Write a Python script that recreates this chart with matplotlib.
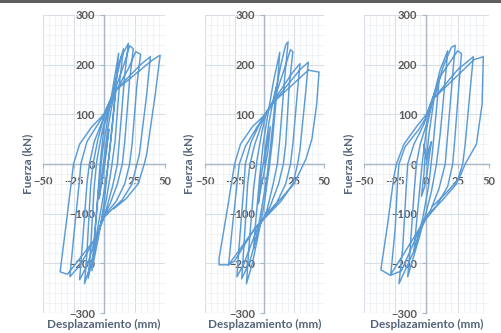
import numpy as np
import matplotlib
matplotlib.use('Agg')
import matplotlib.pyplot as plt
from matplotlib.ticker import MultipleLocator
from matplotlib.patches import Rectangle

plt.rcParams['font.family'] = ['Lato', 'DejaVu Sans']

# Ciclos histeréticos (desplazamiento mm, fuerza kN)
ciclo_a = [
    (0, 0), (2, 35), (4, 70), (2, 25), (0, -10), (-2, -40), (-4, -70), (-2, -25), (0, 10),
    (3, 70), (7, 125), (10, 155), (8, 105), (5, 35), (2, -25), (-2, -85), (-6, -140), (-9, -175),
    (-7, -120), (-4, -40), (-1, 30), (3, 90), (8, 165), (12, 223),
    (10, 165), (6, 60), (3, -10), (0, -80), (-4, -140), (-10, -215),
    (-8, -160), (-5, -60), (-3, 5), (0, 75), (7, 135), (12, 200), (16, 232),
    (13, 170), (9, 45), (6, -10), (2, -70), (-3, -125), (-8, -175), (-13, -230),
    (-11, -170), (-8, -45), (-6, 5), (-2, 60), (2, 100), (7, 135), (14, 215), (20, 243),
    (17, 180), (13, 60), (11, 0), (7, -45), (2, -90), (-4, -130), (-10, -195), (-16, -241),
    (-14, -180), (-11, -45), (-9, 0), (-5, 50), (0, 95), (7, 135), (17, 205), (21, 238), (24, 232),
    (21, 170), (17, 45), (15, 0), (11, -40), (5, -80), (0, -105), (-6, -145), (-14, -205), (-20, -233),
    (-18, -170), (-14, -40), (-12, 0), (-8, 45), (0, 95), (7, 135), (20, 192), (26, 226), (30, 221),
    (27, 160), (23, 40), (21, 0), (17, -40), (10, -75), (0, -105), (-6, -145), (-20, -205), (-28, -227),
    (-25, -150), (-20, -30), (-19, 0), (-14, 45), (-5, 80), (0, 100), (8, 145), (30, 200), (38, 216),
    (35, 140), (29, 20), (27, 0), (23, -40), (15, -72), (5, -95), (0, -108), (-7, -150), (-30, -222), (-36, -217),
    (-31, -120), (-26, -20), (-25, 0), (-20, 40), (-10, 75), (0, 100), (8, 145), (40, 210), (46, 219),
    (42, 140), (35, 20), (33, 0), (28, -40), (18, -70), (8, -90),
]

ciclo_b = [
    (0, 0), (2, 35), (5, 75), (3, 25), (0, -15), (-3, -50), (-5, -80), (-3, -30), (0, 15),
    (4, 85), (8, 135), (10, 155), (8, 100), (5, 30), (2, -30), (-3, -100), (-6, -140), (-9, -170),
    (-7, -110), (-4, -30), (-1, 40), (3, 100), (8, 170), (13, 225),
    (11, 160), (7, 50), (4, -10), (0, -80), (-4, -130), (-10, -200), (-15, -241),
    (-13, -170), (-9, -50), (-6, 10), (-2, 65), (2, 105), (8, 128), (14, 200), (18, 240), (20, 246),
    (17, 170), (13, 50), (11, 0), (7, -45), (2, -95), (-4, -125), (-12, -195), (-19, -231),
    (-17, -160), (-14, -40), (-12, 0), (-8, 40), (0, 95), (8, 128), (16, 185), (22, 230), (24, 226),
    (21, 160), (18, 40), (16, 0), (12, -40), (5, -85), (0, -108), (-6, -130), (-17, -200), (-23, -227),
    (-21, -160), (-17, -40), (-16, 0), (-11, 45), (-3, 85), (0, 98), (8, 128), (24, 185), (30, 202),
    (28, 150), (24, 40), (22, 0), (18, -40), (10, -80), (0, -108), (-8, -130), (-25, -195), (-30, -203),
    (-27, -130), (-22, -20), (-21, 0), (-16, 35), (-6, 75), (0, 95), (8, 125), (30, 190), (37, 205),
    (35, 150), (30, 30), (28, 0), (24, -40), (14, -75), (2, -105), (-8, -130), (-30, -203), (-38, -203), (-38, -190),
    (-31, -90), (-26, -15), (-25, 0), (-20, 40), (-10, 75), (0, 98), (8, 125), (37, 189), (46, 185),
    (44, 120), (40, 50), (35, 10), (32, -5), (25, -40), (12, -75), (2, -100),
]

ciclo_c = [
    (0, 0), (2, 30), (4, 45), (2, 10), (0, -30), (-2, -50), (-4, -65), (-2, -20), (-1, 20), (-2, 40), (0, 10), (2, 60),
    (6, 130), (10, 165), (8, 110), (5, 30), (2, -40), (-3, -110), (-7, -150), (-10, -175),
    (-8, -120), (-5, -40), (-3, 10), (0, 70), (5, 130), (11, 190), (17, 228),
    (15, 170), (11, 60), (8, 0), (4, -55), (-1, -105), (-6, -150), (-15, -227),
    (-13, -170), (-10, -60), (-8, 0), (-5, 40), (0, 80), (5, 130), (14, 200), (20, 235), (23, 239),
    (21, 180), (17, 60), (15, 0), (10, -50), (3, -95), (-3, -115), (-10, -175), (-22, -241),
    (-19, -170), (-16, -40), (-15, 0), (-10, 40), (-2, 80), (3, 120), (12, 180), (25, 228), (28, 222),
    (26, 160), (23, 60), (21, 0), (17, -45), (8, -85), (0, -110), (-7, -140), (-20, -215), (-28.6, -224),
    (-25, -130), (-23, -30), (-22, 0), (-17, 35), (-6, 70), (0, 95), (5, 130), (25, 190), (37.5, 216),
    (35, 150), (31, 40), (29, 0), (24, -40), (12, -75), (0, -105), (-8, -140), (-29, -224), (-36.5, -213),
    (-31, -120), (-26, -25), (-24, 0), (-18, 40), (-8, 75), (0, 100), (5, 130), (38, 210), (45.5, 216),
    (44.5, 120), (40, 40), (31, 0), (26, -30), (15, -60), (5, -85),
]

x_ticks = [-50, -25, 0, 25, 50]
y_ticks = [-300, -200, -100, 0, 100, 200, 300]

color_linea = '#5b9bd5'
color_eje = '#a9b6c8'
color_texto = '#595959'
color_titulo = '#56647a'

fig = plt.figure(figsize=(5.02, 3.33), dpi=100)
fig.patch.set_facecolor('white')

# posiciones de los tres paneles [izq, abajo, ancho, alto]
posiciones = [
    [0.0857, 0.060, 0.243, 0.895],
    [0.408, 0.060, 0.237, 0.895],
    [0.725, 0.060, 0.249, 0.895],
]
label_x = [-0.125, -0.135, -0.12]

for ciclo, pos, lx in zip([ciclo_a, ciclo_b, ciclo_c], posiciones, label_x):
    ax = fig.add_axes(pos)
    datos = np.array(ciclo)
    ax.plot(datos[:, 0], datos[:, 1], color=color_linea, lw=1.05, zorder=3)

    ax.set_xlim(-50, 50)
    ax.set_ylim(-300, 300)
    ax.set_xticks(x_ticks)
    ax.set_yticks(y_ticks)
    ax.xaxis.set_minor_locator(MultipleLocator(5))
    ax.yaxis.set_minor_locator(MultipleLocator(20))

    # ejes cruzando en el origen (estilo Excel)
    ax.spines['left'].set_position(('data', 0))
    ax.spines['bottom'].set_position(('data', 0))
    ax.spines['top'].set_visible(False)
    ax.spines['right'].set_visible(False)
    for s in ['left', 'bottom']:
        ax.spines[s].set_color(color_eje)
        ax.spines[s].set_linewidth(1.0)
        ax.spines[s].set_zorder(2)

    ax.grid(which='major', color='#d9dee6', lw=0.8)
    ax.grid(which='minor', color='#eef1f5', lw=0.6)
    ax.set_axisbelow(True)

    ax.tick_params(which='minor', length=0)
    ax.tick_params(axis='x', which='major', length=3, pad=5.5, color=color_eje,
                   labelsize=8, labelcolor=color_texto)
    ax.tick_params(axis='y', which='major', length=3, pad=3.5, color=color_eje,
                   labelsize=8, labelcolor=color_texto)
    for t in ax.get_xticklabels() + ax.get_yticklabels():
        t.set_fontweight('bold')

    ax.set_xlabel('Desplazamiento (mm)', fontsize=8.5, fontweight='bold', color=color_titulo,
                  va='center')
    ax.set_ylabel('Fuerza (kN)', fontsize=8.5, fontweight='bold', color=color_titulo,
                  va='center')
    ax.xaxis.set_label_coords(0.5, -0.04)
    ax.yaxis.set_label_coords(lx, 0.5)

# línea gris superior
fig.add_artist(Rectangle((0, 0.992), 1, 0.008, transform=fig.transFigure,
                         color='#5f5f5f', lw=0))

plt.savefig('out.png', dpi=100)
